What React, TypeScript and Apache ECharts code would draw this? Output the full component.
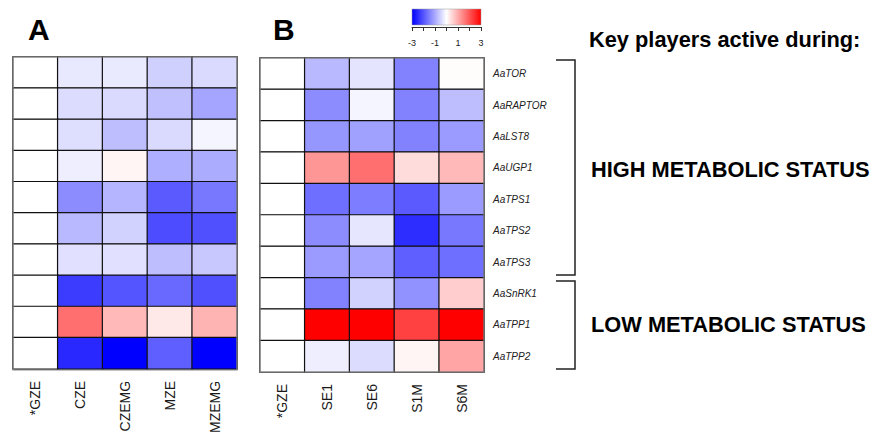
import React, { useEffect, useRef } from "react";
import * as echarts from "echarts";

const genes = ["AaTOR", "AaRAPTOR", "AaLST8", "AaUGP1", "AaTPS1", "AaTPS2", "AaTPS3", "AaSnRK1", "AaTPP1", "AaTPP2"];
const conditionsA = ["*GZE", "CZE", "CZEMG", "MZE", "MZEMG"];
const conditionsB = ["*GZE", "SE1", "SE6", "S1M", "S6M"];

// rows = genes, columns = conditions (log2 fold change vs GZE)
const valuesA: number[][] = [
  [0, -0.27, -0.25, -0.55, -0.43],
  [0, -0.41, -0.43, -0.74, -1.06],
  [0, -0.39, -0.76, -0.43, -0.12],
  [0, -0.2, 0.12, -0.94, -0.98],
  [0, -1.35, -0.88, -1.94, -1.59],
  [0, -0.82, -0.53, -2.1, -2.06],
  [0, -0.35, -0.35, -0.76, -0.65],
  [0, -2.3, -2.0, -1.76, -2.06],
  [0, 1.7, 0.82, 0.27, 0.88],
  [0, -2.53, -3.0, -1.88, -3.0],
];
const valuesB: number[][] = [
  [0, -0.82, -0.32, -1.47, 0.03],
  [0, -1.35, -0.12, -1.47, -0.76],
  [0, -1.24, -1.12, -1.47, -1.18],
  [0, 1.24, 1.7, 0.41, 0.82],
  [0, -1.7, -1.53, -1.94, -1.18],
  [0, -1.35, -0.29, -2.47, -1.59],
  [0, -1.18, -1.06, -1.88, -1.7],
  [0, -1.47, -0.53, -1.29, 0.59],
  [0, 3.0, 3.0, 2.24, 3.0],
  [0, -0.2, -0.41, 0.12, 1.06],
];
const scaleMin = -3;
const scaleMax = 3;
const scaleTickLabels = ["-3", "-1", "1", "3"];

const FONT = "'Liberation Sans', Arial, sans-serif";

function toCells(values: number[][]) {
  const out: number[][] = [];
  values.forEach((row, yi) => row.forEach((v, xi) => out.push([xi, yi, v])));
  return out;
}

const gridA = { left: 13, top: 57, width: 224, height: 313 };
const gridB = { left: 260, top: 58, width: 224, height: 314 };
const gridScale = { left: 412, top: 9, width: 69, height: 18 };

export default function App() {
  const ref = useRef<HTMLDivElement>(null);
  useEffect(() => {
    document.body.style.margin = "0";
    const chart = echarts.init(ref.current!, undefined, { renderer: "svg" });
    const xLabel = {
      rotate: 90,
      fontSize: 14,
      color: "#1a1a1a",
      fontFamily: FONT,
      margin: 12,
    };
    const cellStyle = { borderColor: "#111", borderWidth: 1.2 };
    chart.setOption({
      animation: false,
      backgroundColor: "#fff",
      grid: [
        { ...gridA, containLabel: false },
        { ...gridB, containLabel: false },
        { ...gridScale, containLabel: false },
      ],
      xAxis: [
        {
          type: "category",
          gridIndex: 0,
          data: conditionsA,
          axisLine: { show: false },
          axisTick: { show: false },
          axisLabel: xLabel,
        },
        {
          type: "category",
          gridIndex: 1,
          data: conditionsB,
          axisLine: { show: false },
          axisTick: { show: false },
          axisLabel: xLabel,
        },
        {
          type: "value",
          gridIndex: 2,
          min: scaleMin,
          max: scaleMax,
          interval: 1,
          splitLine: { show: false },
          axisLine: { show: true, lineStyle: { color: "#333", width: 1 } },
          axisTick: { show: true, length: 4, lineStyle: { color: "#333" } },
          axisLabel: {
            fontSize: 9,
            color: "#1a1a1a",
            fontFamily: FONT,
            margin: 11,
            formatter: (v: number) => {
              const s = String(v);
              return scaleTickLabels.includes(s) ? s : "";
            },
          },
        },
      ],
      yAxis: [
        {
          type: "category",
          gridIndex: 0,
          data: genes,
          inverse: true,
          axisLine: { show: false },
          axisTick: { show: false },
          axisLabel: { show: false },
        },
        {
          type: "category",
          gridIndex: 1,
          data: genes,
          inverse: true,
          position: "right",
          axisLine: { show: false },
          axisTick: { show: false },
          axisLabel: {
            fontSize: 10,
            fontStyle: "italic",
            color: "#222",
            fontFamily: FONT,
            margin: 9,
          },
        },
        {
          type: "category",
          gridIndex: 2,
          data: [""],
          show: false,
        },
      ],
      visualMap: {
        show: false,
        type: "continuous",
        min: scaleMin,
        max: scaleMax,
        seriesIndex: [0, 1],
        inRange: { color: ["#0000ff", "#ffffff", "#ff0000"] },
      },
      series: [
        {
          type: "heatmap",
          xAxisIndex: 0,
          yAxisIndex: 0,
          data: toCells(valuesA),
          itemStyle: cellStyle,
        },
        {
          type: "heatmap",
          xAxisIndex: 1,
          yAxisIndex: 1,
          data: toCells(valuesB),
          itemStyle: cellStyle,
        },
      ],
      graphic: [
        {
          type: "rect",
          z: 100,
          shape: { x: gridA.left, y: gridA.top, width: gridA.width, height: gridA.height },
          style: { fill: "none", stroke: "#8a8a8a", lineWidth: 1.2 },
        },
        {
          type: "rect",
          z: 100,
          shape: { x: gridB.left, y: gridB.top, width: gridB.width, height: gridB.height },
          style: { fill: "none", stroke: "#8a8a8a", lineWidth: 1.2 },
        },
        {
          type: "rect",
          z: 100,
          shape: { x: gridScale.left, y: gridScale.top, width: gridScale.width, height: 16 },
          style: {
            fill: new echarts.graphic.LinearGradient(0, 0, 1, 0, [
              { offset: 0, color: "#0000ff" },
              { offset: 0.5, color: "#ffffff" },
              { offset: 1, color: "#ff0000" },
            ]),
            stroke: "#999",
            lineWidth: 0.5,
          },
        },
        {
          type: "text",
          z: 100,
          style: { text: "A", x: 28, y: 29, font: `bold 30px ${FONT}`, fill: "#000", textVerticalAlign: "middle" },
        },
        {
          type: "text",
          z: 100,
          style: { text: "B", x: 273, y: 29, font: `bold 30px ${FONT}`, fill: "#000", textVerticalAlign: "middle" },
        },
        {
          type: "text",
          z: 100,
          style: {
            text: "Key players active during:",
            x: 589,
            y: 39,
            font: `bold 21.8px ${FONT}`,
            fill: "#000",
            textVerticalAlign: "middle",
          },
        },
        {
          type: "text",
          z: 100,
          style: {
            text: "HIGH METABOLIC STATUS",
            x: 591,
            y: 169,
            font: `bold 21.8px ${FONT}`,
            fill: "#000",
            textVerticalAlign: "middle",
          },
        },
        {
          type: "text",
          z: 100,
          style: {
            text: "LOW METABOLIC STATUS",
            x: 591,
            y: 324,
            font: `bold 21.8px ${FONT}`,
            fill: "#000",
            textVerticalAlign: "middle",
          },
        },
        {
          type: "polyline",
          z: 100,
          shape: { points: [[556, 60], [575, 60], [575, 275], [556, 275]] },
          style: { stroke: "#222", lineWidth: 1.5, fill: "none" },
        },
        {
          type: "polyline",
          z: 100,
          shape: { points: [[556, 281], [575, 281], [575, 369], [556, 369]] },
          style: { stroke: "#222", lineWidth: 1.5, fill: "none" },
        },
      ],
    });
    return () => chart.dispose();
  }, []);
  return <div ref={ref} style={{ position: "absolute", left: 0, top: 0, width: 877, height: 436 }} />;
}
